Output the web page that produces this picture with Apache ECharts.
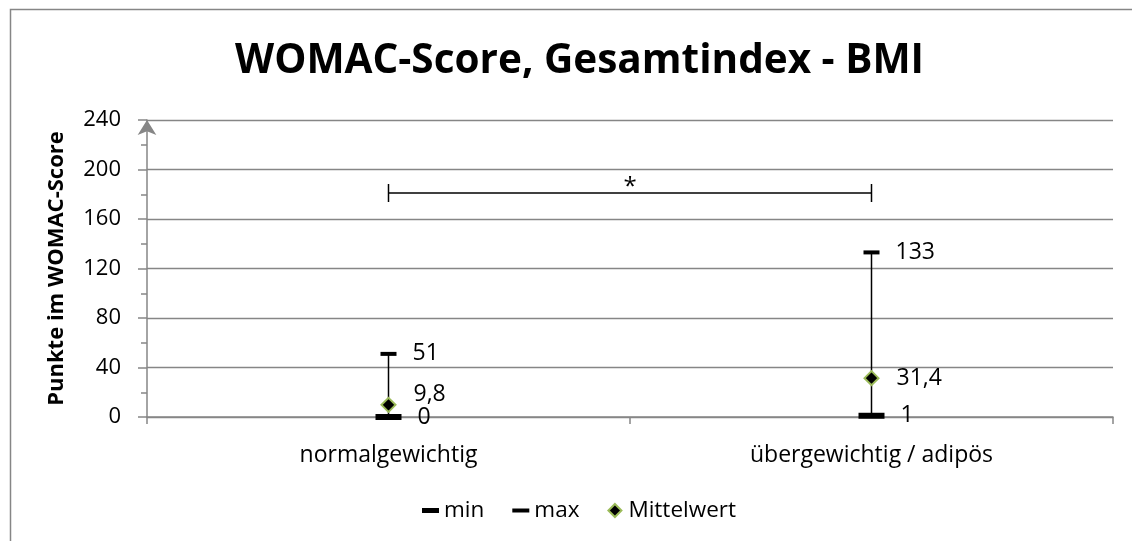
<!DOCTYPE html>
<html>
<head>
<meta charset="utf-8">
<script src="https://cdn.jsdelivr.net/npm/echarts@6/dist/echarts.min.js"></script>
<style>
html,body{margin:0;padding:0;background:#fff;}
#chart{width:1132px;height:541px;}
</style>
</head>
<body>
<div id="chart"></div>
<script>
// ---- data ----
var categories = ['normalgewichtig', 'übergewichtig / adipös'];
var minValues = [0, 1];
var maxValues = [51, 133];
var meanValues = [9.8, 31.4];
var meanLabels = ['9,8', '31,4'];
var yTicks = [0, 40, 80, 120, 160, 200, 240];
var sigFrom = [0];
var sigTo = [1];
var sigLevel = [181];
var sigText = ['*'];

var FONT = '"Open Sans", sans-serif';
var GRAY = '#868686';

var chart = echarts.init(document.getElementById('chart'), null, {renderer: 'canvas'});

var rangeData = categories.map(function (c, i) { return [i, minValues[i], maxValues[i]]; });
var minData = categories.map(function (c, i) { return [i, minValues[i]]; });
var maxData = categories.map(function (c, i) { return [i, maxValues[i]]; });
var meanData = categories.map(function (c, i) {
  var item = {value: [i, meanValues[i]]};
  if (i === 0) item.label = {offset: [0, -10]};
  return item;
});
var sigData = sigFrom.map(function (f, i) { return [f, sigTo[i], sigLevel[i]]; });

var option = {
  animation: false,
  backgroundColor: '#fff',
  title: {
    text: 'WOMAC-Score, Gesamtindex - BMI',
    left: 230,
    top: 36,
    textStyle: {fontFamily: FONT, fontWeight: 'bold', fontSize: 40.5, color: '#000'}
  },
  graphic: [{
    type: 'rect', left: 8, top: 7, silent: true,
    shape: {width: 1200, height: 600},
    style: {fill: 'none', stroke: GRAY, lineWidth: 1.5}
  }],
  legend: {
    bottom: 14,
    left: 417,
    itemWidth: 17,
    itemHeight: 13,
    itemGap: 28,
    textStyle: {fontFamily: FONT, fontSize: 22.5, color: '#000'},
    data: [
      {name: 'min', icon: 'path://M0,0h17v5h-17z'},
      {name: 'max', icon: 'path://M0,0h17v4h-17z'},
      {name: 'Mittelwert', icon: 'path://M7,0L14,7L7,14L0,7Z'}
    ]
  },
  grid: {left: 147, right: 19, top: 120, bottom: 124, containLabel: false, outerBoundsMode: 'none'},
  xAxis: {
    type: 'category',
    data: categories,
    boundaryGap: true,
    axisLine: {show: true, lineStyle: {color: GRAY, width: 1.5}},
    axisTick: {show: true, length: 7, alignWithLabel: false, lineStyle: {color: GRAY, width: 1.5}},
    axisLabel: {fontFamily: FONT, fontSize: 23, color: '#000', margin: 27},
    splitLine: {show: false}
  },
  yAxis: {
    type: 'value',
    min: yTicks[0],
    max: yTicks[yTicks.length - 1],
    interval: yTicks[1] - yTicks[0],
    name: 'Punkte im WOMAC-Score',
    nameLocation: 'middle',
    nameGap: 79,
    nameTextStyle: {fontFamily: FONT, fontWeight: 'bold', fontSize: 22, color: '#000'},
    axisLine: {show: true, symbol: ['none', 'arrow'], symbolSize: [14, 15], symbolOffset: [0, 0], lineStyle: {color: GRAY, width: 1.5}},
    axisTick: {show: true, length: 9, lineStyle: {color: GRAY, width: 1.5}},
    minorTick: {show: true, splitNumber: 2, length: 6, lineStyle: {color: GRAY, width: 1.5}},
    axisLabel: {fontFamily: FONT, fontSize: 22, color: '#000', margin: 26},
    splitLine: {show: true, lineStyle: {color: GRAY, width: 1.3}}
  },
  series: [
    {
      name: 'range',
      type: 'custom',
      data: rangeData,
      z: 2,
      encode: {x: 0, y: [1, 2]},
      renderItem: function (params, api) {
        var p1 = api.coord([api.value(0), api.value(1)]);
        var p2 = api.coord([api.value(0), api.value(2)]);
        return {
          type: 'line',
          shape: {x1: p1[0], y1: p1[1], x2: p2[0], y2: p2[1]},
          style: {stroke: '#000', lineWidth: 1.5}
        };
      }
    },
    {
      name: 'sig',
      type: 'custom',
      data: sigData,
      z: 2,
      encode: {x: [0, 1], y: 2},
      renderItem: function (params, api) {
        var a = api.coord([api.value(0), api.value(2)]);
        var b = api.coord([api.value(1), api.value(2)]);
        var y = a[1];
        return {
          type: 'group',
          children: [
            {type: 'line', shape: {x1: a[0], y1: y, x2: b[0], y2: y}, style: {stroke: '#000', lineWidth: 1.5}},
            {type: 'line', shape: {x1: a[0], y1: y - 9, x2: a[0], y2: y + 9}, style: {stroke: '#000', lineWidth: 1.5}},
            {type: 'line', shape: {x1: b[0], y1: y - 9, x2: b[0], y2: y + 9}, style: {stroke: '#000', lineWidth: 1.5}},
            {type: 'text', x: (a[0] + b[0]) / 2, y: y - 6,
             style: {text: sigText[params.dataIndex], fill: '#000', font: '24px ' + FONT, align: 'center', verticalAlign: 'middle'}}
          ]
        };
      }
    },
    {
      name: 'min',
      type: 'scatter',
      data: minData,
      symbol: 'rect',
      symbolSize: [26, 6],
      z: 3,
      itemStyle: {color: '#000', opacity: 1},
      label: {show: true, position: 'right', distance: 16, fontFamily: FONT, fontSize: 23, color: '#000',
        formatter: function (p) { return String(p.value[1]); }}
    },
    {
      name: 'max',
      type: 'scatter',
      data: maxData,
      symbol: 'rect',
      symbolSize: [16, 4],
      z: 3,
      itemStyle: {color: '#000', opacity: 1},
      label: {show: true, position: 'right', distance: 16, fontFamily: FONT, fontSize: 23, color: '#000',
        formatter: function (p) { return String(p.value[1]); }}
    },
    {
      name: 'Mittelwert',
      type: 'scatter',
      data: meanData,
      symbol: 'diamond',
      symbolSize: 14,
      z: 4,
      itemStyle: {color: '#000', borderColor: '#9bbb59', borderWidth: 2, opacity: 1},
      label: {show: true, position: 'right', distance: 17, fontFamily: FONT, fontSize: 23, color: '#000',
        formatter: function (p) { return meanLabels[p.dataIndex]; }}
    }
  ]
};
chart.setOption(option);
</script>
</body>
</html>
